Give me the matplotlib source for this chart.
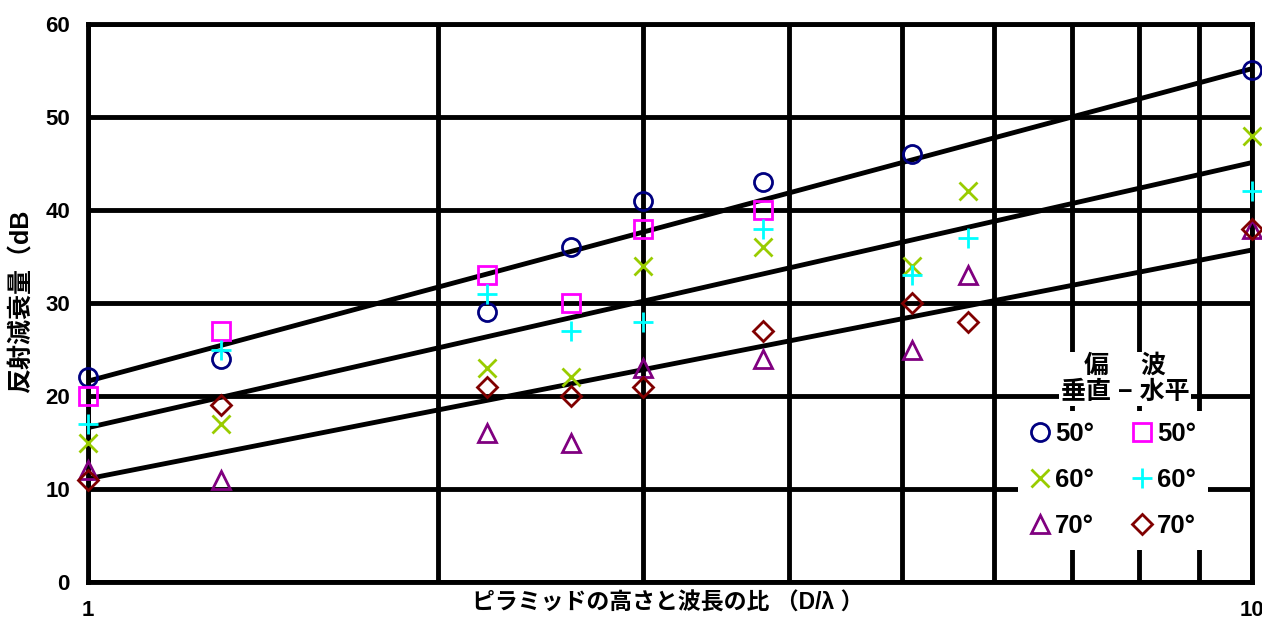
import numpy as np
import matplotlib; matplotlib.use("Agg")
import matplotlib.pyplot as plt
from matplotlib.ticker import FixedLocator, NullFormatter

plt.rcParams['font.family'] = ['Liberation Sans', 'Noto Sans CJK JP', 'DejaVu Sans']
plt.rcParams['font.weight'] = 'bold'
plt.rcParams['axes.unicode_minus'] = False

# D/λ 値
xs = [1, 1.3, 2.2, 2.6, 3, 3.8, 5.1, 5.7, 10]
nan = np.nan
# 垂直偏波
v50 = [22, 24, 29, 36, 41, 43, 46, nan, 55]
v60 = [15, 17, 23, 22, 34, 36, 34, 42, 48]
v70 = [12, 11, 16, 15, 23, 24, 25, 33, 38]
# 水平偏波
h50 = [20, 27, 33, 30, 38, 40, nan, nan, nan]
h60 = [17, 25, 31, 27, 28, 38, 33, 37, 42]
h70 = [11, 19, 21, 20, 21, 27, 30, 28, 38]

# 近似直線 (両端)
fit_x = [1, 10]
fit_top = [21.6, 55.2]
fit_mid = [16.6, 45.1]
fit_low = [11.1, 35.7]

yticks = [0, 10, 20, 30, 40, 50, 60]
labels = ['50°', '60°', '70°', '50°', '60°', '70°']

# (data, marker, color, size)
series = [
    (v50, 'o', '#000080', 13),
    (v60, 'x', '#99CC00', 13),
    (v70, '^', '#800080', 13),
    (h50, 's', '#FF00FF', 12.5),
    (h60, '+', '#00FFFF', 15),
    (h70, 'D', '#800000', 10.5),
]

fig = plt.figure(figsize=(12.62, 6.21), dpi=100)
ax = fig.add_axes([88/1262, 1-582/621, (1252-88)/1262, (582-24)/621])
ax.set_xscale('log')
ax.set_xlim(1, 10)
ax.set_ylim(0, 60)

ax.xaxis.set_major_locator(FixedLocator([1, 10]))
ax.xaxis.set_minor_locator(FixedLocator([2, 3, 4, 5, 6, 7, 8, 9]))
ax.xaxis.set_minor_formatter(NullFormatter())
ax.set_xticklabels(['1', '10'])
ax.set_yticks(yticks)
ax.tick_params(which='both', length=0)
ax.tick_params(axis='y', pad=13, labelsize=16)
ax.tick_params(axis='x', pad=13, labelsize=16)

ax.grid(True, which='both', color='black', lw=3.5)
ax.set_axisbelow(True)
for s in ax.spines.values():
    s.set_linewidth(3.5)
    s.set_color('black')

for fy in [fit_top, fit_mid, fit_low]:
    ax.plot(fit_x, fy, color='black', lw=3.5, zorder=2)

handles = []
for data, mk, col, ms in series:
    ln, = ax.plot(xs, data, ls='none', marker=mk, ms=ms, mfc='none', mec=col,
                  mew=2, clip_on=False, zorder=3)
    handles.append(ln)

ax.set_xlabel('ピラミッドの高さと波長の比 （D/λ ）', fontsize=16.5, fontweight='bold')
ax.xaxis.set_label_coords(0.498, -0.018)
fig.text(22/1262, 1-301/621, '反射減衰量（dB', rotation=90, ha='center', va='center',
         fontsize=18, fontweight='bold')

leg = ax.legend(handles, labels, ncol=2, loc='upper left',
                bbox_to_anchor=(1005/1262, 1-398/621), bbox_transform=fig.transFigure,
                frameon=True, facecolor='white', edgecolor='none', framealpha=1,
                fancybox=False, fontsize=18.5, handlelength=0.8, handletextpad=0.2,
                columnspacing=1.45, labelspacing=0.85, borderpad=0.45, numpoints=1)
fig.text(1125/1262, 1-379/621, '偏\u3000 波\n垂直 − 水平', ha='center', va='center',
         fontsize=18, fontweight='bold', linespacing=1.15,
         bbox=dict(fc='white', ec='none', pad=1))

fig.savefig('out.png', dpi=100)
